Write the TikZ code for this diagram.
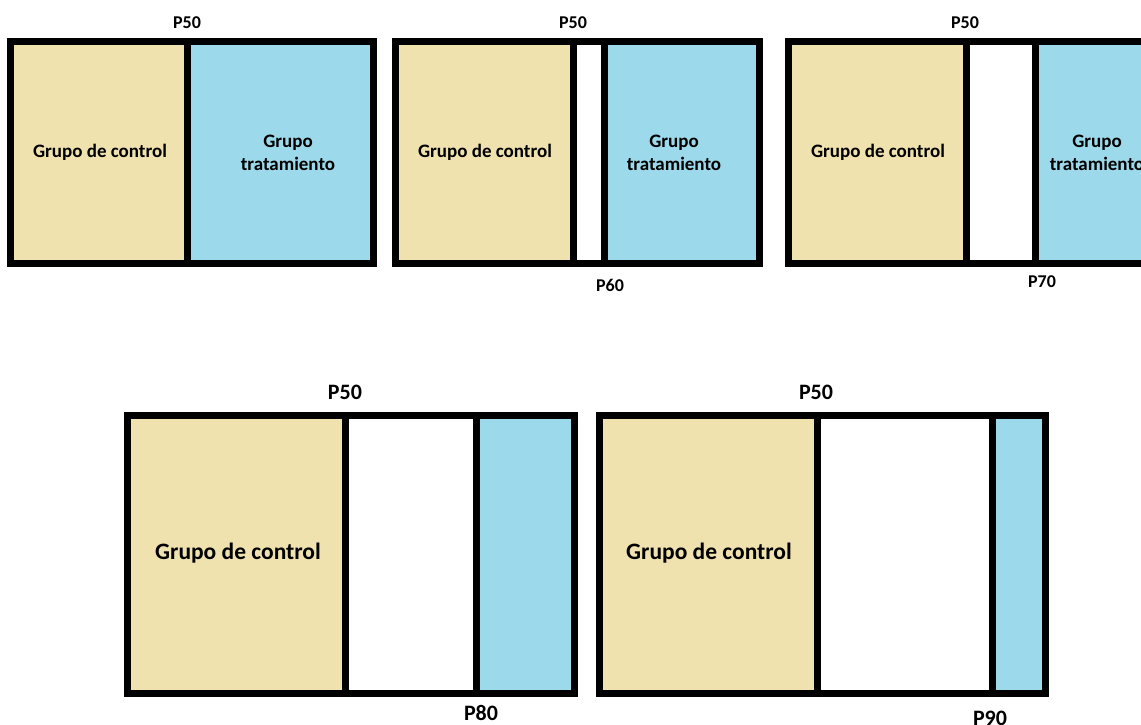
\documentclass[tikz,border=0pt]{standalone}
\usepackage{fontspec}
\setmainfont{Carlito}
\usepackage{tikz}
\usetikzlibrary{positioning}
\definecolor{beige}{RGB}{239,226,174}
\definecolor{celeste}{RGB}{156,217,234}
\begin{document}
\begin{tikzpicture}[x=1pt, y=-1pt, seg/.style={rectangle, draw=black, line width=7pt, inner sep=0pt, outer sep=0pt, minimum height=222pt}, bigseg/.style={seg, minimum height=278pt}, ctrl/.style={fill=beige}, trat/.style={fill=celeste}, hueco/.style={fill=white}, lbl/.style={inner sep=0pt, align=center, font=\fontsize{19}{23}\selectfont\bfseries}, biglbl/.style={lbl, font=\fontsize{23.5}{28}\selectfont\bfseries}, pct/.style={inner sep=0pt, font=\fontsize{18}{20}\selectfont\bfseries}, bigpct/.style={pct, font=\fontsize{22}{24}\selectfont\bfseries}]
		\useasboundingbox (0,0) rectangle (1141,725);
		\clip (0,0) rectangle (1141,725);
		% fila de arriba
		\node[seg, ctrl, minimum width=176.5pt, anchor=north west] (ctrlA) at (10.5,41.5) {};
		\node[seg, trat, minimum width=186.5pt, right=0pt of ctrlA] (tratA) {};
		\node[seg, ctrl, minimum width=177.5pt, anchor=north west] (ctrlB) at (395.5,41.5) {};
		\node[seg, hueco, minimum width=31pt, right=0pt of ctrlB] (gapB) {};
		\node[seg, trat, minimum width=155.5pt, right=0pt of gapB] (tratB) {};
		\node[seg, ctrl, minimum width=177.5pt, anchor=north west] (ctrlC) at (788.5,41.5) {};
		\node[seg, hueco, minimum width=69pt, right=0pt of ctrlC] (gapC) {};
		\node[seg, trat, minimum width=160pt, right=0pt of gapC] (tratC) {};
		\node[lbl] (txtctrlA) at (100,152) {Grupo de control};
		\node[lbl] (txttratA) at (288,153) {Grupo\\tratamiento};
		\node[lbl] (txtctrlB) at (485,152) {Grupo de control};
		\node[lbl] (txttratB) at (674,153) {Grupo\\tratamiento};
		\node[lbl] (txtctrlC) at (878,152) {Grupo de control};
		\node[lbl] (txttratC) at (1097,153) {Grupo\\tratamiento};
		\node[pct] (pA) at (187,23) {P50};
		\node[pct] (pB) at (573,23) {P50};
		\node[pct] (pB2) at (610,285) {P60};
		\node[pct] (pC) at (965,23) {P50};
		\node[pct] (pC2) at (1042,282) {P70};
		% fila de abajo
		\node[bigseg, ctrl, minimum width=217.5pt, anchor=north west] (ctrlD) at (127.5,415.5) {};
		\node[bigseg, hueco, minimum width=131pt, right=0pt of ctrlD] (gapD) {};
		\node[bigseg, trat, minimum width=98.5pt, right=0pt of gapD] (tratD) {};
		\node[bigseg, ctrl, minimum width=217.5pt, anchor=north west] (ctrlE) at (599.5,415.5) {};
		\node[bigseg, hueco, minimum width=175pt, right=0pt of ctrlE] (gapE) {};
		\node[bigseg, trat, minimum width=53.5pt, right=0pt of gapE] (tratE) {};
		\node[biglbl] (txtctrlD) at (238,553) {Grupo de control};
		\node[biglbl] (txtctrlE) at (709,553) {Grupo de control};
		\node[bigpct] (pD) at (345,392) {P50};
		\node[bigpct] (pD2) at (481,713) {P80};
		\node[bigpct] (pE) at (816,392) {P50};
		\node[bigpct] (pE2) at (990,718) {P90};
	\end{tikzpicture}
\end{document}
